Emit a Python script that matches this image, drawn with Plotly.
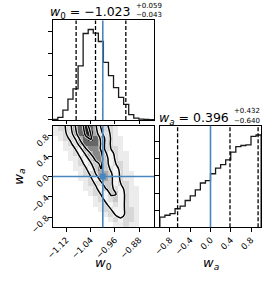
import numpy as np
import plotly.graph_objects as go

W, H = 266, 281

# ---------------- data ----------------
w0_range = [-1.165, -0.831]
wa_range = [-1.0, 1.0]

w0_counts = [5, 30, 110, 235, 350, 610, 975, 1020, 980, 885,
             650, 500, 365, 255, 175, 60, 20, 10, 5, 3]
wa_counts = [119, 140, 158, 216, 248, 313, 367, 437, 518, 545,
             626, 691, 734, 788, 880, 945, 957, 964, 1065, 1080]

w0_quantiles = [-1.088, -1.024, -0.924]
wa_quantiles = [-0.65, 0.385, 0.94]
w0_true = -1.0
wa_true = 0.0

w0_title = ("−1.023", "+0.059", "−0.043")
wa_title = ("0.396", "+0.432", "−0.640")

w0_ticks = [-1.12, -1.04, -0.96, -0.88]
w0_ticktext = ["−1.12", "−1.04", "−0.96", "−0.88"]
wa_ticks = [-0.8, -0.4, 0.0, 0.4, 0.8]
wa_ticktext = ["−0.8", "−0.4", "0.0", "0.4", "0.8"]

# 2-D density levels (0 = empty ... 9 = densest), rows from wa = +1 (top) to wa = -1 (bottom),
# columns from w0 low (left) to w0 high (right)
density_rows = [
    "12246898642210000000",
    "11246899644210000000",
    "01224689864211000000",
    "00124688864211000000",
    "00112367762221000000",
    "00012356775321100000",
    "00011235775321100000",
    "00001234575322100000",
    "00001123575432100000",
    "00000122566532110000",
    "00000112356532110000",
    "00000012245532210000",
    "00000011235543211000",
    "00000001223553211000",
    "00000000123453211000",
    "00000000112343211000",
    "00000000012233221000",
    "00000000001233221000",
    "00000000000123221000",
    "00000000000011211000",
]
level_colors = ["#ffffff", "#ececec", "#d8d8d8", "#f4f4f4", "#e0e0e0",
                "#cacaca", "#a9a9a9", "#888888", "#666666", "#1e1e1e"]
# contour levels on the lightly smoothed grid (2.0, 1.5, 1.0, 0.5 sigma)
contour_levels = [2.4, 4.3, 5.9, 8.2]

# ---------------- build figure ----------------
def px(p):
    return p / W

def py(p):
    return 1 - p / H

nb = len(w0_counts)
w0_edges = np.linspace(w0_range[0], w0_range[1], nb + 1)
wa_edges = np.linspace(wa_range[0], wa_range[1], len(wa_counts) + 1)

def step_xy(edges, counts):
    xs = [edges[0]] + list(edges) + [edges[-1]]
    ys = [0] + list(counts) + [counts[-1], 0]
    return xs, ys

fig = go.Figure()
hist_line = dict(color="#1a1a1a", width=1.3, shape="hv")

x1, y1 = step_xy(w0_edges, w0_counts)
fig.add_trace(go.Scatter(x=x1, y=y1, mode="lines", line=hist_line,
                         xaxis="x", yaxis="y", hoverinfo="skip"))
x3, y3 = step_xy(wa_edges, wa_counts)
fig.add_trace(go.Scatter(x=x3, y=y3, mode="lines", line=hist_line,
                         xaxis="x3", yaxis="y3", hoverinfo="skip"))

z = np.array([[int(c) for c in row] for row in density_rows[::-1]], dtype=float)
xc = 0.5 * (w0_edges[:-1] + w0_edges[1:])
yc = 0.5 * (wa_edges[:-1] + wa_edges[1:])
cs = []
for k, c in enumerate(level_colors):
    cs.append([k / 10, c])
    cs.append([(k + 1) / 10, c])
fig.add_trace(go.Heatmap(x=xc, y=yc, z=z, zmin=-0.5, zmax=9.5, colorscale=cs,
                         showscale=False, xaxis="x2", yaxis="y2", hoverinfo="skip"))

# light 3x3 smoothing of the grid for the contour lines (as corner does)
kern = np.array([0.25, 0.5, 0.25])
zp = np.pad(z, 1, mode="edge")
zs = np.zeros_like(z)
for i in range(3):
    for j in range(3):
        zs += kern[i] * kern[j] * zp[i:i + z.shape[0], j:j + z.shape[1]]

yc_c = yc.copy()
yc_c[0] = wa_range[0]
yc_c[-1] = wa_range[1]
for col, wd in (("white", 2.8), ("black", 1.5)):
    for lev in contour_levels:
        fig.add_trace(go.Contour(x=xc, y=yc_c, z=zs, showscale=False,
                                 contours=dict(coloring="none", start=lev, end=lev, size=1),
                                 line=dict(color=col, width=wd, smoothing=1.0),
                                 xaxis="x2", yaxis="y2", hoverinfo="skip"))

blue = "#4a86be"
fig.add_trace(go.Scatter(x=[w0_true], y=[wa_true], mode="markers",
                         marker=dict(symbol="square", size=6, color=blue),
                         xaxis="x2", yaxis="y2", hoverinfo="skip"))

shapes = []
for q in w0_quantiles:
    shapes.append(dict(type="line", xref="x", yref="y domain", x0=q, x1=q, y0=0, y1=1,
                       line=dict(color="black", width=1.3, dash="4px,2px")))
for q in wa_quantiles:
    shapes.append(dict(type="line", xref="x3", yref="y3 domain", x0=q, x1=q, y0=0, y1=1,
                       line=dict(color="black", width=1.3, dash="4px,2px")))
for xr, yr in (("x", "y domain"), ("x2", "y2 domain")):
    shapes.append(dict(type="line", xref=xr, yref=yr, x0=w0_true, x1=w0_true, y0=0, y1=1,
                       line=dict(color=blue, width=1.6)))
shapes.append(dict(type="line", xref="x2 domain", yref="y2", x0=0, x1=1, y0=wa_true, y1=wa_true,
                   line=dict(color=blue, width=1.6)))
shapes.append(dict(type="line", xref="x3", yref="y3 domain", x0=wa_true, x1=wa_true, y0=0, y1=1,
                   line=dict(color=blue, width=1.6)))

font = "DejaVu Sans"
base_ax = dict(showgrid=False, zeroline=False, showline=True, mirror=True,
               linecolor="black", linewidth=1, ticks="outside", ticklen=3.5,
               tickcolor="black", tickwidth=1,
               tickfont=dict(family=font, size=8.5, color="black"))

dom_x1 = [px(47), px(151)]
dom_x3 = [px(157), px(261)]
dom_ytop = [py(123), py(21)]
dom_ybot = [py(233), py(129)]

layout = dict(
    width=W, height=H, margin=dict(l=0, r=0, t=0, b=0),
    paper_bgcolor="white", plot_bgcolor="white", showlegend=False,
    shapes=shapes,
    xaxis=dict(base_ax, domain=dom_x1, anchor="y", range=w0_range,
               tickvals=w0_ticks, showticklabels=False),
    yaxis=dict(base_ax, domain=dom_ytop, anchor="x", range=[0, 1.1 * max(w0_counts)],
               tick0=0, dtick=250, showticklabels=False),
    xaxis2=dict(base_ax, domain=dom_x1, anchor="y2", range=w0_range,
                tickvals=w0_ticks, ticktext=w0_ticktext, tickangle=-45),
    yaxis2=dict(base_ax, domain=dom_ybot, anchor="x2", range=wa_range,
                tickvals=wa_ticks, ticktext=wa_ticktext, tickangle=-45),
    xaxis3=dict(base_ax, domain=dom_x3, anchor="y3", range=wa_range,
                tickvals=wa_ticks, ticktext=wa_ticktext, tickangle=-45),
    yaxis3=dict(base_ax, domain=dom_ybot, anchor="x3", range=[0, 1.1 * max(wa_counts)],
                tick0=0, dtick=200, showticklabels=False),
)

def ann(text, x, y, size, xanchor="center", yanchor="middle", angle=0):
    return dict(text=text, x=px(x), y=py(y), xref="paper", yref="paper",
                xanchor=xanchor, yanchor=yanchor, showarrow=False, textangle=angle,
                font=dict(family=font, size=size, color="black"))

annotations = [
    ann("<i>w</i><sub>0</sub> = " + w0_title[0], 129, 13, 12.5, xanchor="right"),
    ann(w0_title[1], 130, 6, 7, xanchor="left"),
    ann(w0_title[2], 130, 15, 7, xanchor="left"),
    ann("<i>w</i><sub><i>a</i></sub> = " + wa_title[0], 230.5, 122, 12.5, xanchor="right"),
    ann(wa_title[1], 231.5, 114, 7, xanchor="left"),
    ann(wa_title[2], 231.5, 124.5, 7, xanchor="left"),
    ann("<i>w</i><sub>0</sub>", 99.5, 270, 13),
    ann("<i>w</i><sub><i>a</i></sub>", 209, 270, 13),
    ann("<i>w</i><sub><i>a</i></sub>", 12.5, 181, 13, angle=-90),
]
layout["annotations"] = annotations
fig.update_layout(**layout)
fig.write_html("out.html", config={"displayModeBar": False, "staticPlot": True},
               post_script="document.body.style.margin='0';document.body.style.overflow='hidden';")
